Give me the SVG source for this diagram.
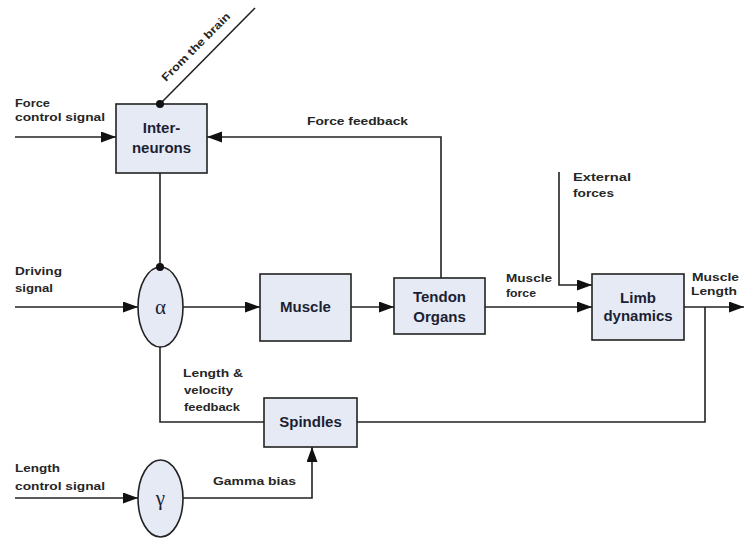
<svg xmlns="http://www.w3.org/2000/svg" width="744" height="541" viewBox="0 0 744 541">
<style>
.box{fill:#e6eaf5;stroke:#222;stroke-width:1.6}
.wire{fill:none;stroke:#222;stroke-width:1.6}
.arr{marker-end:url(#ah)}
.lbl{font-family:"Liberation Sans",Arial,sans-serif;font-size:11px;font-weight:bold;fill:#262626}
.nl{font-family:"Liberation Sans",Arial,sans-serif;font-size:15px;font-weight:bold;fill:#1c1f33;text-anchor:middle}
.gk{font-family:"Liberation Serif","Times New Roman",serif;font-size:21px;fill:#1c1f33;text-anchor:middle}
.dot{fill:#111}
</style>
<defs>
<marker id="ah" markerUnits="userSpaceOnUse" markerWidth="16" markerHeight="12" refX="15" refY="5.5" orient="auto">
<path d="M0,0 L15,5.5 L0,11 z" fill="#111"/>
</marker>
</defs>
<rect width="744" height="541" fill="#fff"/>
<g id="connectors">
<path class="wire arr" d="M15,137 H116"/>
<path class="wire arr" d="M441,278 V137 H207"/>
<path class="wire" d="M255,8 L160,104"/>
<path class="wire" d="M160,173 V267"/>
<path class="wire arr" d="M15,307 H138"/>
<path class="wire arr" d="M183,307 H260"/>
<path class="wire arr" d="M351,307 H394"/>
<path class="wire arr" d="M485,307 H592"/>
<path class="wire arr" d="M559,172 V285 H592"/>
<path class="wire arr" d="M684,307 H744"/>
<path class="wire" d="M705,307 V422 H357"/>
<path class="wire" d="M264,422 H160 V347"/>
<path class="wire arr" d="M15,498 H138"/>
<path class="wire arr" d="M183,498 H312 V447"/>
</g>
<g id="labels">
<text class="lbl" x="15" y="107" textLength="35" lengthAdjust="spacingAndGlyphs">Force</text>
<text class="lbl" x="15" y="121" textLength="90" lengthAdjust="spacingAndGlyphs">control signal</text>
<text class="lbl" transform="translate(166,82) rotate(-45)" textLength="92" lengthAdjust="spacingAndGlyphs">From the brain</text>
<text class="lbl" x="307" y="125" textLength="101" lengthAdjust="spacingAndGlyphs">Force feedback</text>
<text class="lbl" x="15" y="275" textLength="47" lengthAdjust="spacingAndGlyphs">Driving</text>
<text class="lbl" x="15" y="292" textLength="38" lengthAdjust="spacingAndGlyphs">signal</text>
<text class="lbl" x="183" y="377" textLength="60" lengthAdjust="spacingAndGlyphs">Length &amp;</text>
<text class="lbl" x="184" y="394" textLength="49" lengthAdjust="spacingAndGlyphs">velocity</text>
<text class="lbl" x="184" y="411" textLength="56" lengthAdjust="spacingAndGlyphs">feedback</text>
<text class="lbl" x="15" y="472" textLength="45" lengthAdjust="spacingAndGlyphs">Length</text>
<text class="lbl" x="15" y="490" textLength="90" lengthAdjust="spacingAndGlyphs">control signal</text>
<text class="lbl" x="213" y="485" textLength="83" lengthAdjust="spacingAndGlyphs">Gamma bias</text>
<text class="lbl" x="573" y="181" textLength="58" lengthAdjust="spacingAndGlyphs">External</text>
<text class="lbl" x="573" y="197" textLength="41" lengthAdjust="spacingAndGlyphs">forces</text>
<text class="lbl" x="506" y="282" textLength="46" lengthAdjust="spacingAndGlyphs">Muscle</text>
<text class="lbl" x="506" y="297" textLength="30" lengthAdjust="spacingAndGlyphs">force</text>
<text class="lbl" x="692" y="281" textLength="47" lengthAdjust="spacingAndGlyphs">Muscle</text>
<text class="lbl" x="691" y="295" textLength="46" lengthAdjust="spacingAndGlyphs">Length</text>
</g>
<g id="interneurons">
<rect class="box" x="116" y="104" width="91" height="69"/>
<text class="nl" x="161.5" y="133">Inter-</text>
<text class="nl" x="161.5" y="153">neurons</text>
</g>
<g id="alpha">
<ellipse class="box" cx="160.5" cy="307" rx="22.5" ry="40"/>
<text class="gk" x="160.5" y="314">α</text>
</g>
<g id="muscle">
<rect class="box" x="260" y="274" width="91" height="67"/>
<text class="nl" x="305.5" y="312">Muscle</text>
</g>
<g id="tendon-organs">
<rect class="box" x="394" y="278" width="91" height="56"/>
<text class="nl" x="439.5" y="302">Tendon</text>
<text class="nl" x="439.5" y="322">Organs</text>
</g>
<g id="limb-dynamics">
<rect class="box" x="592" y="274" width="92" height="66"/>
<text class="nl" x="638" y="303">Limb</text>
<text class="nl" x="638" y="321">dynamics</text>
</g>
<g id="spindles">
<rect class="box" x="264" y="398" width="93" height="49"/>
<text class="nl" x="310.5" y="427">Spindles</text>
</g>
<g id="gamma">
<ellipse class="box" cx="160.5" cy="498.5" rx="22.5" ry="38.5"/>
<text class="gk" x="160.5" y="505">γ</text>
</g>
<g id="junctions">
<circle class="dot" cx="160" cy="104" r="4"/>
<circle class="dot" cx="160" cy="267" r="4"/>
</g>
</svg>
